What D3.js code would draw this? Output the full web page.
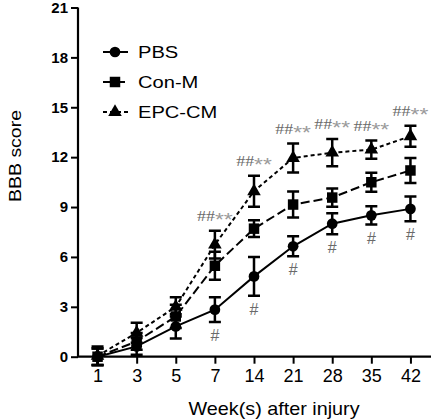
<!DOCTYPE html>
<html><head><meta charset="utf-8">
<script src="https://cdn.jsdelivr.net/npm/d3@7"></script>
<style>body{margin:0;background:#fff}svg{display:block}text{font-family:"Liberation Sans",Arial,sans-serif}</style>
</head><body><svg id="c" width="432" height="420"></svg>
<script>
const weeks = ["1","3","5","7","14","21","28","35","42"];
const pbs      = [0, 0.62, 1.82, 2.83, 4.83, 6.64, 8.0, 8.5, 8.89];
const pbsErr   = [0.5, 0.5, 0.73, 0.75, 1.17, 0.6, 0.63, 0.55, 0.75];
const conM     = [0, 0.92, 2.42, 5.47, 7.7, 9.15, 9.57, 10.49, 11.2];
const conMErr  = [0.5, 0.5, 0.7, 0.84, 0.5, 0.78, 0.55, 0.57, 0.75];
const epc      = [0.05, 1.44, 3.0, 6.74, 9.95, 11.95, 12.27, 12.45, 13.26];
const epcErr   = [0.56, 0.6, 0.58, 0.84, 0.93, 0.87, 0.82, 0.55, 0.63];
const topMarks = ["", "", "", "##**", "##**", "##**", "##**", "##**", "##**"];
const botMarks = ["", "", "", "#", "#", "#", "#", "#", "#"];
const yTicks = [0, 3, 6, 9, 12, 15, 18, 21];

const svg = d3.select("#c");
const x = d3.scalePoint().domain(weeks).range([78, 430]).padding(0.5);
const y = d3.scaleLinear().domain([0, 21]).range([356.7, 7.5]);

// axes
const yAx = svg.append("g").attr("transform", "translate(78,0)")
  .call(d3.axisLeft(y).tickValues(yTicks).tickSize(7).tickPadding(3));
yAx.select(".domain").attr("stroke-width", 2.2).attr("d", "M0," + (y(21)) + "V" + y(0));
yAx.selectAll(".tick line").attr("stroke-width", 2);
yAx.selectAll("text").attr("font-size", 15).attr("font-weight", "bold").attr("fill", "#000");

const xAx = svg.append("g").attr("transform", "translate(0," + y(0) + ")")
  .call(d3.axisBottom(x).tickSize(7).tickPadding(6));
xAx.select(".domain").attr("stroke-width", 2.2).attr("d", "M77,0H431");
xAx.selectAll(".tick line").attr("stroke-width", 2);
xAx.selectAll("text").attr("font-size", 18).attr("fill", "#000");

svg.append("text").attr("transform", "translate(274,415) scale(1.1,1)").attr("text-anchor", "middle")
  .attr("font-size", 18).text("Week(s) after injury");
svg.append("text").attr("transform", "translate(21,156) rotate(-90) scale(1.18,1)").attr("text-anchor", "middle")
  .attr("font-size", 16.5).text("BBB score");

const series = [
  {name: "PBS", v: pbs, e: pbsErr, dash: null, mark: "circle"},
  {name: "Con-M", v: conM, e: conMErr, dash: "9,4", mark: "square"},
  {name: "EPC-CM", v: epc, e: epcErr, dash: "4,3", mark: "triangle"}
];
const symType = {circle: d3.symbolCircle, square: d3.symbolSquare, triangle: d3.symbolTriangle};
const symSize = {circle: 90, square: 110, triangle: 80};

const line = d3.line().x((d, i) => x(weeks[i])).y(d => y(d));
series.forEach(s => {
  svg.append("path").attr("d", line(s.v)).attr("fill", "none").attr("stroke", "#000")
    .attr("stroke-width", 2).attr("stroke-dasharray", s.dash);
});
series.forEach(s => {
  const g = svg.append("g");
  s.v.forEach((v, i) => {
    const cx = x(weeks[i]);
    const t = y(v + s.e[i]), b = y(v - s.e[i]);
    g.append("path").attr("d", `M${cx},${t}V${b}M${cx-6},${t}H${cx+6}M${cx-6},${b}H${cx+6}`)
      .attr("stroke", "#000").attr("stroke-width", 2.5).attr("fill", "none");
    g.append("path").attr("d", d3.symbol(symType[s.mark], symSize[s.mark])())
      .attr("transform", `translate(${cx},${y(v)})`).attr("fill", "#000");
  });
});

// annotations
topMarks.forEach((m, i) => {
  if (!m) return;
  const cx = x(weeks[i]);
  const ty = y(epc[i] + epcErr[i]) - 10;
  const t = svg.append("text").attr("transform", `translate(${cx},${ty}) scale(1.2,1)`)
    .attr("text-anchor", "middle").attr("font-size", 15);
  t.append("tspan").attr("font-family", "Liberation Serif, serif").attr("fill", "#6a6a6a").text(m.replace(/\*/g, ""));
  t.append("tspan").attr("fill", "#9a9a9a").attr("font-size", 19).attr("dy", 5).text(m.replace(/#/g, ""));
});
botMarks.forEach((m, i) => {
  if (!m) return;
  const cx = x(weeks[i]);
  const by = y(pbs[i] - pbsErr[i]) + 19;
  svg.append("text").attr("x", cx).attr("y", by).attr("text-anchor", "middle").attr("font-size", 16)
    .attr("font-family", "Liberation Serif, serif").attr("fill", "#6a6a6a").text(m);
});

// legend
const leg = svg.append("g");
series.forEach((s, i) => {
  const ly = 52 + i * 30;
  leg.append("path").attr("d", `M103,${ly}H128`).attr("stroke", "#000").attr("stroke-width", 2)
    .attr("stroke-dasharray", s.dash);
  leg.append("path").attr("d", d3.symbol(symType[s.mark], symSize[s.mark])())
    .attr("transform", `translate(115,${ly})`).attr("fill", "#000");
  leg.append("text").attr("transform", `translate(138,${ly + 6}) scale(1.22,1)`)
    .attr("font-size", 16.5).text(s.name);
});
</script></body></html>
